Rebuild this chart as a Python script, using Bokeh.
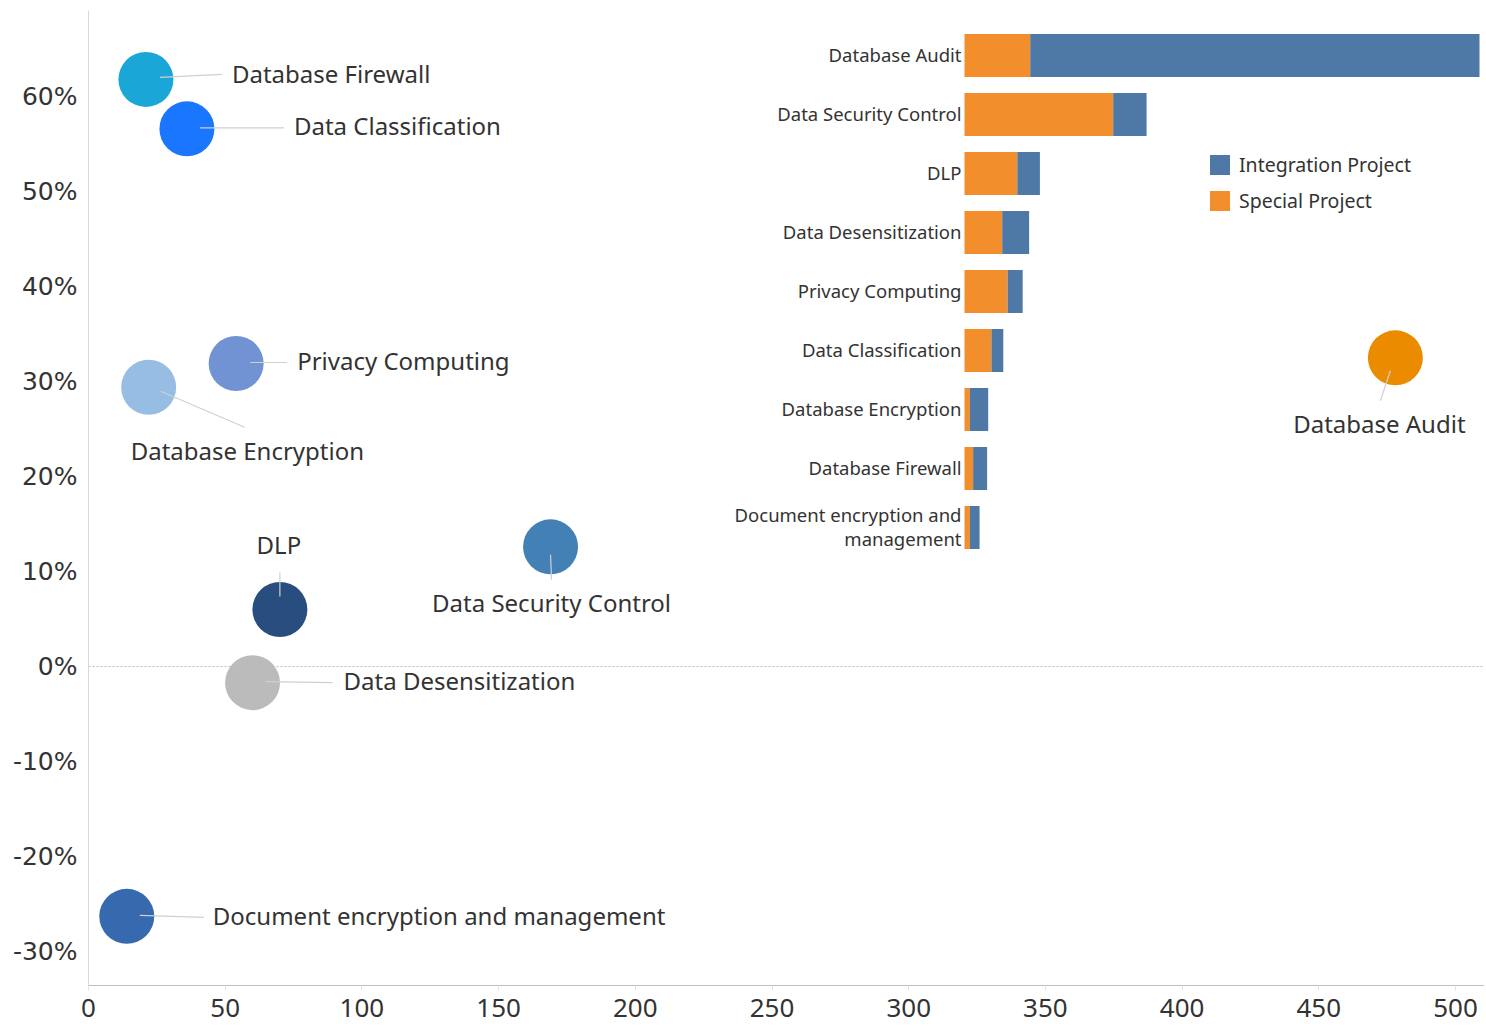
import numpy as np
from bokeh.plotting import figure
from bokeh.models import (ColumnDataSource, Range1d, FixedTicker, NumeralTickFormatter,
                          Span, Legend, LegendItem)
from bokeh.core.properties import value
from bokeh.embed import file_html
from bokeh.resources import INLINE

# ---------------- data ----------------
products = ["Database Audit", "Data Security Control", "DLP", "Data Desensitization",
            "Privacy Computing", "Data Classification", "Database Encryption",
            "Database Firewall", "Document encryption and management"]
bar_labels = ["Database Audit", "Data Security Control", "DLP", "Data Desensitization",
              "Privacy Computing", "Data Classification", "Database Encryption",
              "Database Firewall", "Document encryption and\nmanagement"]
special_project = [61, 138, 49, 35, 40, 25, 5, 8, 5]
integration_project = [417, 31, 21, 25, 14, 11, 17, 13, 9]
growth_rate = [0.325, 0.126, 0.060, -0.017, 0.319, 0.566, 0.294, 0.618, -0.263]
bubble_colors = ["#EB8C00", "#4280B5", "#284E80", "#BBBBBB", "#7193D3",
                 "#1A76FF", "#98BDE4", "#1BA6D8", "#3769AE"]
x_ticks = [0, 50, 100, 150, 200, 250, 300, 350, 400, 450, 500]
y_ticks = [-0.3, -0.2, -0.1, 0.0, 0.1, 0.2, 0.3, 0.4, 0.5, 0.6]
legend_names = ["Integration Project", "Special Project"]

# ---------------- layout / style (pixels) ----------------
FRAME_W, FRAME_H = 1396, 975
X_END = 510.6
Y_START, Y_END = -0.3358, 0.6906
# label offsets (dx, dy, align) and leader start/end offsets, screen px (y down)
label_dx = [-16, 1, -1, 91, 61, 107, -18, 86, 86]
label_dy = [66, 56, -65, -2, -3, -3, 63, -6, -1]
label_align = ["center", "center", "center", "left", "left", "left", "left", "left", "left"]
lead_s = [(-5, 13), (0, 8), (0, -13), (13, -1), (14, -1), (13, -1), (12, 4), (14, -2), (13, -1)]
lead_e = [(-15, 43), (1, 33), (0, -37), (80, 0), (51, -1), (97, -1), (96, 40), (76, -5), (77, 1)]
INSET_LEFT_PX = 876
INSET_PX_PER_UNIT = 1.0774
ROW0_PX = 45
ROW_PX = 59
BAR_PX = 43

px_x = FRAME_W / X_END
px_y = FRAME_H / (Y_END - Y_START)

total = [s + i for s, i in zip(special_project, integration_project)]
xs = np.array(total, dtype=float)
ys = np.array(growth_rate, dtype=float)

p = figure(frame_width=FRAME_W, frame_height=FRAME_H,
           x_range=Range1d(0, X_END), y_range=Range1d(Y_START, Y_END),
           output_backend="svg", toolbar_location=None,
           min_border_left=88, min_border_top=10, min_border_right=0, min_border_bottom=47)
p.outline_line_color = None
p.xgrid.visible = False
p.ygrid.visible = False
p.background_fill_color = "white"
p.border_fill_color = "white"

# axes
p.xaxis.ticker = FixedTicker(ticks=x_ticks)
p.xaxis.axis_line_color = "#bfbfbf"
p.xaxis.major_tick_line_color = "#e3e3e3"
p.xaxis.major_tick_out = 5
p.xaxis.major_tick_in = 0
p.xaxis.minor_tick_line_color = None
p.xaxis.major_label_text_font = "Noto Sans"
p.xaxis.major_label_text_font_size = "26px"
p.xaxis.major_label_text_color = "#333333"
p.xaxis.major_label_standoff = 8

p.yaxis.ticker = FixedTicker(ticks=y_ticks)
p.yaxis.formatter = NumeralTickFormatter(format="0%")
p.yaxis.axis_line_color = "#d9d9d9"
p.yaxis.major_tick_line_color = None
p.yaxis.minor_tick_line_color = None
p.yaxis.major_label_text_font = "DejaVu Sans"
p.yaxis.major_label_text_font_size = "25px"
p.yaxis.major_label_text_color = "#333333"
p.yaxis.major_label_standoff = 5

zero = Span(location=0, dimension="width", line_color="#bbbbbb", line_dash="2 2",
            line_width=1, level="underlay")
p.add_layout(zero)

# ---------------- inset stacked bars ----------------
p.extra_x_ranges = {"bx": Range1d(-INSET_LEFT_PX / INSET_PX_PER_UNIT,
                                  (FRAME_W - INSET_LEFT_PX) / INSET_PX_PER_UNIT)}
p.extra_y_ranges = {"by": Range1d(-(FRAME_H - ROW0_PX) / ROW_PX, ROW0_PX / ROW_PX)}
rows = -np.arange(len(products), dtype=float)
bsrc = ColumnDataSource(dict(
    row=rows,
    sp=special_project,
    tot=total,
    lab=bar_labels,
))
r_spc = p.hbar(y="row", left=0, right="sp", height=BAR_PX / ROW_PX, fill_color="#F28E2B",
               line_color=None, source=bsrc, x_range_name="bx", y_range_name="by")
r_int = p.hbar(y="row", left="sp", right="tot", height=BAR_PX / ROW_PX, fill_color="#4E79A7",
               line_color=None, source=bsrc, x_range_name="bx", y_range_name="by")
p.text(x=0, y="row", text="lab", source=bsrc, x_range_name="bx", y_range_name="by",
       x_offset=-3, y_offset=-1, text_align="right", text_baseline="middle",
       text_font=value("Noto Sans"), text_font_size="18.5px", text_color="#333333",
       text_line_height=0.97)

legend = Legend(items=[LegendItem(label=legend_names[0], renderers=[r_int]),
                       LegendItem(label=legend_names[1], renderers=[r_spc])],
                location=(1119, 771), orientation="vertical",
                glyph_width=25, glyph_height=25, label_height=25, spacing=9,
                padding=0, margin=0, border_line_alpha=0, background_fill_alpha=0,
                label_text_font="Noto Sans", label_text_font_size="19.5px",
                label_text_color="#333333", label_standoff=7)
p.add_layout(legend)

# ---------------- bubbles ----------------
src = ColumnDataSource(dict(x=xs, y=ys, color=bubble_colors, name=products,
                            dx=label_dx, dy=label_dy, align=label_align))
p.scatter(x="x", y="y", size=55, fill_color="color", line_color=None, source=src)

x0 = xs + np.array([s[0] for s in lead_s]) / px_x
y0 = ys - np.array([s[1] for s in lead_s]) / px_y
x1 = xs + np.array([e[0] for e in lead_e]) / px_x
y1 = ys - np.array([e[1] for e in lead_e]) / px_y
p.segment(x0=x0, y0=y0, x1=x1, y1=y1, line_color="#d0d0d0", line_width=1.2)

p.text(x="x", y="y", text="name", source=src, x_offset="dx", y_offset="dy",
       text_align="align", text_baseline="middle", text_font=value("Noto Sans"),
       text_font_size="24px", text_color="#333333")

open("out.html", "w").write(file_html(p, INLINE))
